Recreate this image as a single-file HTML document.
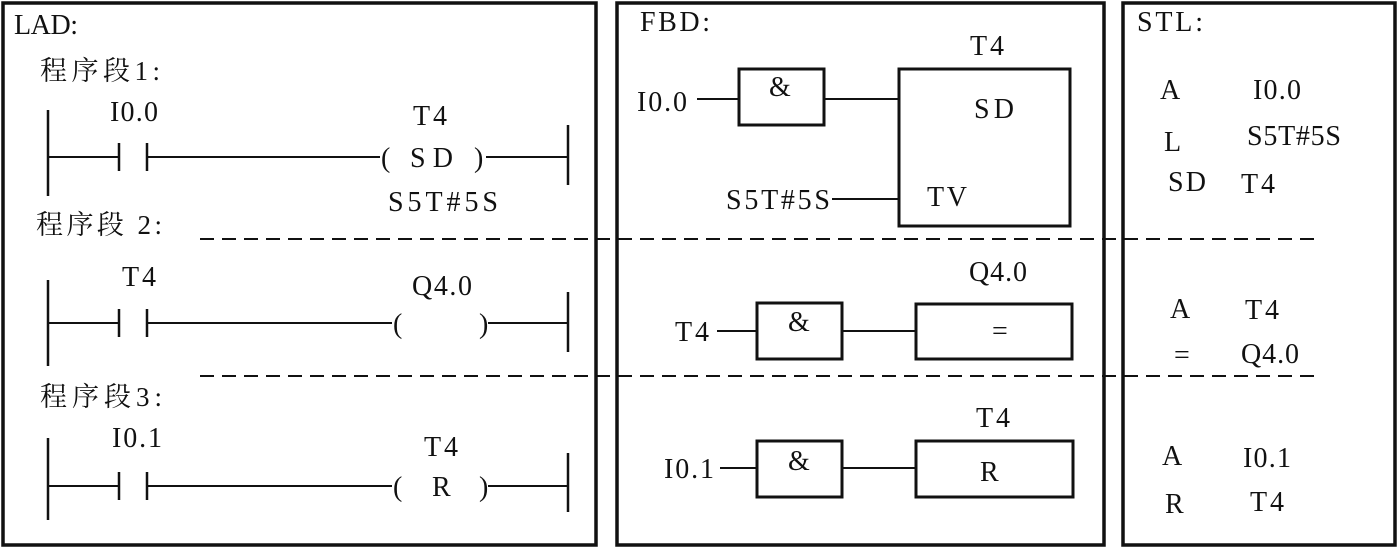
<!DOCTYPE html>
<html><head><meta charset="utf-8"><style>
html,body{margin:0;padding:0;background:#fff;}
svg{display:block;}
text{font-family:"Liberation Serif","Noto Serif CJK SC",serif;font-size:28px;fill:#111;}
.cj{font-family:"Liberation Serif","Noto Serif CJK SC",serif;font-size:27px;}
</style></head><body>
<svg width="1398" height="548" viewBox="0 0 1398 548" xmlns="http://www.w3.org/2000/svg">
<g fill="none" stroke="#111">
<rect x="3" y="3" width="593" height="542" stroke-width="3.5"/>
<rect x="617" y="3" width="487" height="542" stroke-width="3.5"/>
<rect x="1123" y="3" width="272" height="542" stroke-width="3.5"/>
<g stroke-width="2" stroke-dasharray="14,8">
<line x1="200" y1="239" x2="1320" y2="239"/>
<line x1="200" y1="376" x2="1320" y2="376"/>
</g>
<g stroke-width="2.5">
<line x1="48" y1="110" x2="48" y2="196"/><line x1="48" y1="280" x2="48" y2="366"/><line x1="48" y1="438" x2="48" y2="520"/>
<line x1="568" y1="125" x2="568" y2="185"/><line x1="568" y1="292" x2="568" y2="352"/><line x1="568" y1="453" x2="568" y2="512"/>
<line x1="119" y1="143" x2="119" y2="171"/><line x1="147" y1="143" x2="147" y2="171"/>
<line x1="119" y1="309" x2="119" y2="337"/><line x1="147" y1="309" x2="147" y2="337"/>
<line x1="119" y1="472" x2="119" y2="500"/><line x1="147" y1="472" x2="147" y2="500"/>
</g>
<g stroke-width="2">
<line x1="48" y1="157" x2="119" y2="157"/><line x1="147" y1="157" x2="380" y2="157"/><line x1="486" y1="157" x2="568" y2="157"/>
<line x1="48" y1="323" x2="119" y2="323"/><line x1="147" y1="323" x2="392" y2="323"/><line x1="488" y1="323" x2="568" y2="323"/>
<line x1="48" y1="486" x2="119" y2="486"/><line x1="147" y1="486" x2="392" y2="486"/><line x1="488" y1="486" x2="568" y2="486"/>
<line x1="697" y1="99" x2="739" y2="99"/><line x1="824" y1="99" x2="899" y2="99"/>
<line x1="832" y1="199" x2="899" y2="199"/>
<line x1="717" y1="331" x2="757" y2="331"/><line x1="842" y1="331" x2="916" y2="331"/>
<line x1="720" y1="468" x2="757" y2="468"/><line x1="842" y1="468" x2="916" y2="468"/>
</g>
<g stroke-width="3">
<rect x="739" y="69" width="85" height="56"/>
<rect x="899" y="69" width="171" height="157"/>
<rect x="757" y="303" width="85" height="56"/>
<rect x="916" y="304" width="156" height="55"/>
<rect x="757" y="441" width="85" height="56"/>
<rect x="916" y="441" width="157" height="56"/>
</g>
</g>
<text x="14" y="34" textLength="64">LAD:</text>
<text class="cj" x="40" y="80" textLength="120">程序段1:</text>
<text class="cj" x="36" y="234" textLength="126">程序段 2:</text>
<text class="cj" x="40" y="406" textLength="122">程序段3:</text>
<text x="110" y="121" textLength="48">I0.0</text>
<text x="413" y="125" textLength="34">T4</text>
<text x="381" y="167">(</text><text x="410" y="167" textLength="43">SD</text><text x="474" y="167">)</text>
<text x="388" y="211" textLength="110">S5T#5S</text>
<text x="122" y="286" textLength="34">T4</text>
<text x="412" y="295" textLength="60">Q4.0</text>
<text x="393" y="333">(</text><text x="479" y="333">)</text>
<text x="112" y="447" textLength="50">I0.1</text>
<text x="424" y="456" textLength="34">T4</text>
<text x="393" y="496">(</text><text x="432" y="496">R</text><text x="479" y="496">)</text>
<text x="640" y="31" textLength="70">FBD:</text>
<text x="970" y="55" textLength="34">T4</text>
<text x="637" y="111" textLength="50">I0.0</text>
<text x="769" y="96">&amp;</text>
<text x="974" y="118" textLength="40">SD</text>
<text x="726" y="209" textLength="104">S5T#5S</text>
<text x="927" y="206" textLength="40">TV</text>
<text x="969" y="281" textLength="58">Q4.0</text>
<text x="675" y="341" textLength="34">T4</text>
<text x="788" y="331">&amp;</text>
<text x="992" y="340">=</text>
<text x="976" y="427" textLength="34">T4</text>
<text x="664" y="478" textLength="50">I0.1</text>
<text x="788" y="470">&amp;</text>
<text x="980" y="481">R</text>
<text x="1137" y="31" textLength="66">STL:</text>
<text x="1160" y="99">A</text><text x="1253" y="99" textLength="48">I0.0</text>
<text x="1164" y="151">L</text><text x="1247" y="145" textLength="94">S5T#5S</text>
<text x="1168" y="191" textLength="38">SD</text><text x="1241" y="193" textLength="34">T4</text>
<text x="1170" y="318">A</text><text x="1245" y="319" textLength="34">T4</text>
<text x="1174" y="364">=</text><text x="1241" y="363" textLength="58">Q4.0</text>
<text x="1162" y="465">A</text><text x="1243" y="467" textLength="48">I0.1</text>
<text x="1165" y="513">R</text><text x="1250" y="511" textLength="34">T4</text>
</svg>
</body></html>
